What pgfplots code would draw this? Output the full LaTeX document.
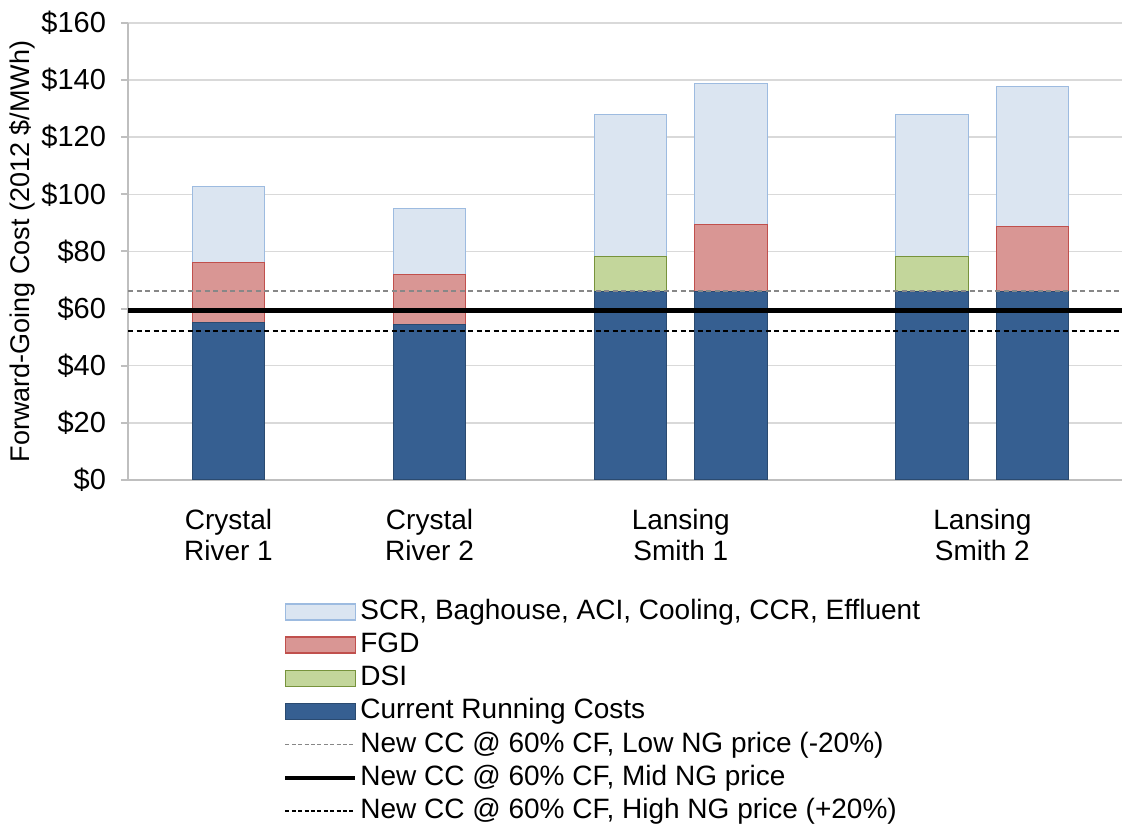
\documentclass[border=0pt]{standalone}
\usepackage{pgfplots}
\pgfplotsset{compat=1.18}
\usepackage{fontspec}
\setmainfont{Liberation Sans}

\definecolor{scrF}{RGB}{219,229,241}
\definecolor{scrE}{RGB}{157,187,224}
\definecolor{fgdF}{RGB}{217,150,148}
\definecolor{fgdE}{RGB}{192,80,77}
\definecolor{dsiF}{RGB}{195,214,155}
\definecolor{dsiE}{RGB}{119,147,60}
\definecolor{curF}{RGB}{54,95,145}
\definecolor{curE}{RGB}{42,74,112}
\definecolor{gridC}{RGB}{217,217,217}
\definecolor{axC}{RGB}{191,191,191}
\definecolor{lowC}{RGB}{135,135,135}

\pgfplotsset{
  swatch/.style={legend image code/.code={\draw[##1] (0pt,-4pt) rectangle (35pt,4pt);}},
  hline/.style={legend image code/.code={\draw[##1] (0pt,0pt) -- (35pt,0pt);}},
  frame/.style={
    scale only axis,
    width=497pt, height=228.5pt,
    xmin=0, xmax=9.89,
    ymin=0, ymax=160,
  },
}

% bar positions: 1 = Crystal River 1, 3 = Crystal River 2,
% 5,6 = Lansing Smith 1, 8,9 = Lansing Smith 2
\pgfplotstableread{
x  cur  dsi  fgd  scr
1  55.0 0    21.3 26.3
3  54.6 0    17.5 22.8
5  66.0 12.4 0    49.4
6  66.0 0    23.6 49.1
8  66.0 12.4 0    49.4
9  66.0 0    22.9 48.8
}\costs

% new combined-cycle cost lines
\pgfplotstableread{
x    low  mid  high
0    66.2 59.2 52.2
9.89 66.2 59.2 52.2
}\ngc

\begin{document}
\begin{tikzpicture}
\begin{axis}[
    frame,
    ytick={0,20,...,160},
    yticklabel={\$\pgfmathprintnumber{\tick}},
    /pgf/number format/assume math mode=true,
    xtick={1,3,5.5,8.5},
    xticklabels={{Crystal\\River 1},{Crystal\\River 2},{Lansing\\Smith 1},{Lansing\\Smith 2}},
    xticklabel style={align=center, font=\fontsize{14}{15.5}\selectfont, yshift=-7.5pt},
    yticklabel style={font=\fontsize{14.5}{15.5}\selectfont, xshift=-4pt},
    xtick style={draw=none},
    ytick pos=left,
    tick align=outside,
    major tick length=3.5pt,
    ytick style={color=axC, line width=1pt},
    axis x line*=bottom,
    axis y line*=left,
    axis line style={color=axC, line width=1pt, -},
    ymajorgrids,
    grid style={color=gridC, line width=0.75pt},
    ylabel={Forward-Going Cost (2012 \$/MWh)},
    ylabel style={font=\fontsize{13.5}{15.5}\selectfont, at={(axis description cs:-0.1066,0.5)}, anchor=center},
    ybar stacked,
    bar width=0.72,
]
\addplot[fill=curF, draw=curE, line width=0.5pt] table[x=x, y=cur] {\costs};
\addplot[fill=dsiF, draw=dsiE, line width=0.5pt] table[x=x, y=dsi] {\costs};
\addplot[fill=fgdF, draw=fgdE, line width=0.5pt] table[x=x, y=fgd] {\costs};
\addplot[fill=scrF, draw=scrE, line width=0.5pt] table[x=x, y=scr] {\costs};
\end{axis}

\begin{axis}[
    frame,
    hide axis,
    legend style={draw=none, fill=none, at={(axis description cs:0.1559,-0.2515)}, anchor=north west,
        font=\fontsize{14}{15.5}\selectfont, inner sep=0pt, row sep=0pt, column sep=1.5pt,
        nodes={inner sep=0pt, text height=12pt, text depth=4.6pt}},
    legend cell align=left,
]
\addplot[forget plot, lowC, line width=1.1pt, dash pattern=on 2.5pt off 1.75pt] table[x=x, y=low] {\ngc};
\addplot[forget plot, black, line width=2.5pt] table[x=x, y=mid] {\ngc};
\addplot[forget plot, black, line width=1.1pt, dash pattern=on 2.5pt off 1.75pt] table[x=x, y=high] {\ngc};

\addlegendimage{swatch, fill=scrF, draw=scrE, line width=0.75pt}
\addlegendentry{SCR, Baghouse, ACI, Cooling, CCR, Effluent}
\addlegendimage{swatch, fill=fgdF, draw=fgdE, line width=0.75pt}
\addlegendentry{FGD}
\addlegendimage{swatch, fill=dsiF, draw=dsiE, line width=0.75pt}
\addlegendentry{DSI}
\addlegendimage{swatch, fill=curF, draw=curE, line width=0.75pt}
\addlegendentry{Current Running Costs}
\addlegendimage{hline, lowC, line width=0.75pt, dash pattern=on 2pt off 1.2pt}
\addlegendentry{New CC @ 60\% CF, Low NG price (-20\%)}
\addlegendimage{hline, black, line width=2pt}
\addlegendentry{New CC @ 60\% CF, Mid NG price}
\addlegendimage{hline, black, line width=0.75pt, dash pattern=on 2pt off 1.2pt}
\addlegendentry{New CC @ 60\% CF, High NG price (+20\%)}
\end{axis}
\pgfresetboundingbox
\path[use as bounding box] (-64pt,-171.5pt) rectangle (497pt,240pt);
\end{tikzpicture}
\end{document}
